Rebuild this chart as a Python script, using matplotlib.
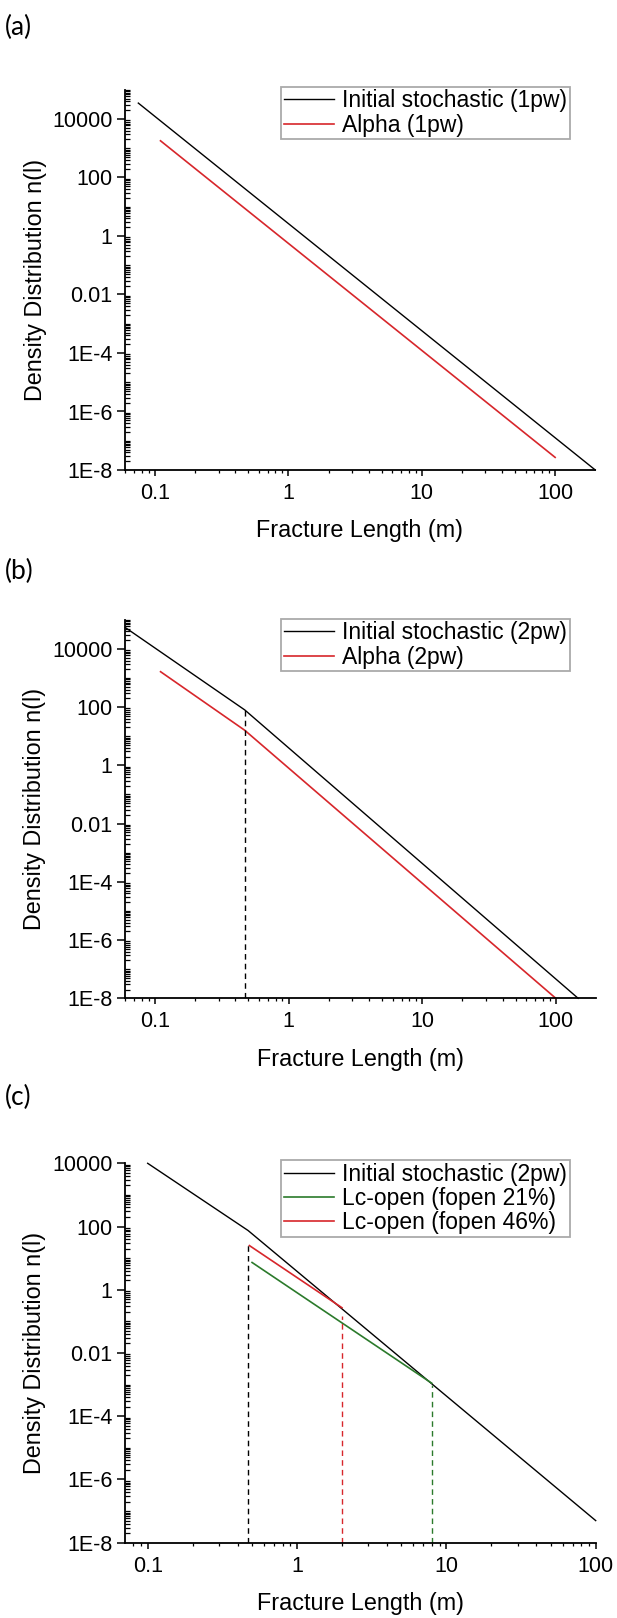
import numpy as np
import matplotlib
matplotlib.use('Agg')
import matplotlib.pyplot as plt
from matplotlib.ticker import LogLocator, NullFormatter

plt.rcParams['font.family'] = ['Liberation Sans', 'DejaVu Sans']

# ---------------- data ----------------
# Panel (a)
a_init_x = [0.075, 200]
a_init_y = [3.5e4, 1e-8]
a_alpha_x = [0.11, 100]
a_alpha_y = [1.8e3, 2.7e-8]
a_labels = ['Initial stochastic (1pw)', 'Alpha (1pw)']

# Panel (b)
b_init_x = [0.06, 0.47, 147]
b_init_y = [5.4e4, 80, 1e-8]
b_alpha_x = [0.11, 0.47, 100]
b_alpha_y = [1.65e3, 16, 1e-8]
b_cut_x = [0.47]
b_cut_top = [80]
b_labels = ['Initial stochastic (2pw)', 'Alpha (2pw)']

# Panel (c)
c_init_x = [0.1, 0.47, 100]
c_init_y = [1e4, 75, 5e-8]
c_f21_x = [0.5, 8.0]
c_f21_y = [7.3, 1.1e-3]
c_f46_x = [0.48, 2.0]
c_f46_y = [25, 0.27]
c_cut_x = [0.47, 2.0, 8.0]
c_cut_top = [33, 0.15, 1e-3]
c_labels = ['Initial stochastic (2pw)', 'Lc-open (fopen 21%)', 'Lc-open (fopen 46%)']

y_tick_vals = [1e-8, 1e-6, 1e-4, 1e-2, 1, 1e2, 1e4]
y_tick_labels = ['1E-8', '1E-6', '1E-4', '0.01', '1', '100', '10000']
x_tick_vals = [0.1, 1, 10, 100]
x_tick_labels = ['0.1', '1', '10', '100']

BLACK = '#000000'
RED = '#d7262b'
GREEN = '#2b7a2b'

W, H = 617, 1618
fig = plt.figure(figsize=(W / 100, H / 100), dpi=100)


def px_axes(left, right, top, bottom):
    return fig.add_axes([left / W, 1 - bottom / H, (right - left) / W, (bottom - top) / H])


def style(ax, xlim, ylim):
    ax.set_xscale('log')
    ax.set_yscale('log')
    ax.set_xlim(*xlim)
    ax.set_ylim(*ylim)
    ax.set_xticks(x_tick_vals, x_tick_labels)
    ax.set_yticks(y_tick_vals, y_tick_labels)
    ax.xaxis.set_minor_locator(LogLocator(base=10, subs=np.arange(2, 10), numticks=100))
    ax.yaxis.set_minor_locator(LogLocator(base=10, subs=np.arange(1, 10), numticks=100))
    ax.xaxis.set_minor_formatter(NullFormatter())
    ax.yaxis.set_minor_formatter(NullFormatter())
    ax.tick_params(axis='x', which='major', direction='out', length=4.5, width=1.1,
                   labelsize=15.5, pad=5)
    ax.tick_params(axis='x', which='minor', direction='out', length=2.5, width=0.9)
    ax.tick_params(axis='y', which='major', direction='out', length=5.5, width=1.1,
                   labelsize=15.5, pad=3.5)
    ax.tick_params(axis='y', which='minor', direction='in', length=3.5, width=0.9)
    for s in ['top', 'right']:
        ax.spines[s].set_visible(False)
    for s in ['left', 'bottom']:
        ax.spines[s].set_linewidth(1.3)
    ax.set_xlabel('Fracture Length (m)', fontsize=16.8)
    ax.set_ylabel('Density Distribution n(l)', fontsize=16.8)
    ax.yaxis.set_label_coords(-0.167, 0.5)


def legend(ax, x0, y0):
    leg = ax.legend(loc='upper left', bbox_to_anchor=(x0, y0), fontsize=16.5, frameon=True,
                    fancybox=False, edgecolor='#aaaaaa', framealpha=1, borderpad=0.12,
                    labelspacing=0.05, handlelength=2.2, handletextpad=0.35, borderaxespad=0)
    leg.get_frame().set_linewidth(1.3)


# ---------------- panel (a) ----------------
ax1 = px_axes(125, 595, 89.75, 470)
ax1.plot(a_init_x, a_init_y, color=BLACK, lw=1.0, label=a_labels[0], clip_on=False)
ax1.plot(a_alpha_x, a_alpha_y, color=RED, lw=1.2, label=a_labels[1], clip_on=False)
style(ax1, (0.0596, 199), (1e-8, 1e5))
ax1.xaxis.set_label_coords(0.5, -0.13)
legend(ax1, 0.332, 1.008)

# ---------------- panel (b) ----------------
ax2 = px_axes(125, 595.7, 619.8, 998.3)
ax2.plot(b_init_x, b_init_y, color=BLACK, lw=1.0, label=b_labels[0], clip_on=False)
ax2.plot(b_alpha_x, b_alpha_y, color=RED, lw=1.2, label=b_labels[1], clip_on=False)
ax2.vlines(b_cut_x, 1e-8, b_cut_top, colors=BLACK, linestyles=(0, (4, 3)), lw=1.0)
style(ax2, (0.0596, 199), (1e-8, 1e5))
ax2.xaxis.set_label_coords(0.5, -0.13)
legend(ax2, 0.332, 1.003)

# ---------------- panel (c) ----------------
ax3 = px_axes(125, 595.7, 1163.3, 1542.7)
ax3.plot(c_init_x, c_init_y, color=BLACK, lw=1.0, label=c_labels[0], clip_on=False)
ax3.plot(c_f21_x, c_f21_y, color=GREEN, lw=1.2, label=c_labels[1], clip_on=False)
ax3.plot(c_f46_x, c_f46_y, color=RED, lw=1.2, label=c_labels[2], clip_on=False)
ax3.vlines(c_cut_x, 1e-8, c_cut_top, colors=[BLACK, RED, GREEN],
           linestyles=(0, (4, 3)), lw=1.0)
style(ax3, (0.0705, 100), (1e-8, 1e4))
ax3.xaxis.set_label_coords(0.5, -0.13)
legend(ax3, 0.331, 1.009)

# ---------------- panel letters ----------------
for lab, yc in [('(a)', 27), ('(b)', 571), ('(c)', 1097)]:
    fig.text(5 / W, 1 - yc / H, lab, ha='left', va='center', fontsize=19,
             family=['Lato', 'DejaVu Sans'])

fig.savefig('out.png', dpi=100)
